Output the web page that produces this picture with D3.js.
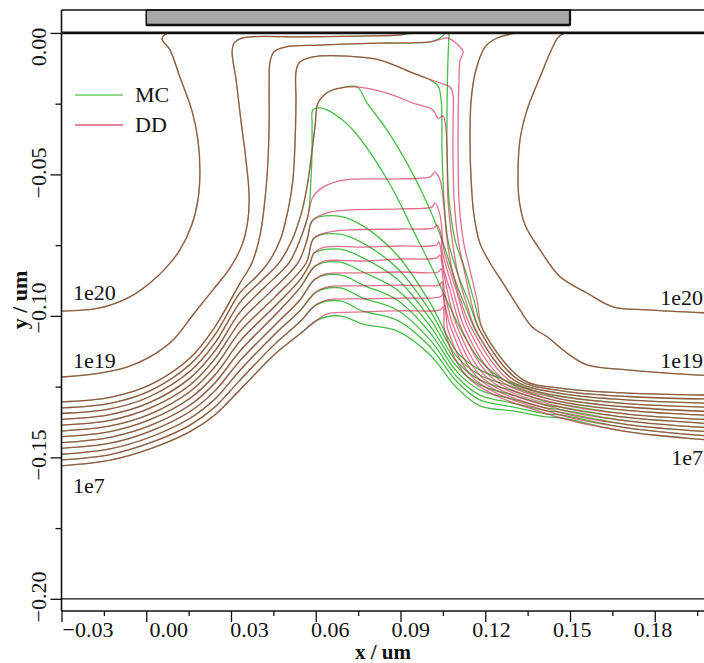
<!DOCTYPE html>
<html><head><meta charset="utf-8">
<script src="https://cdn.jsdelivr.net/npm/d3@7"></script>
<style>body{margin:0;background:#fff} svg{display:block} text{font-family:"Liberation Serif","Times New Roman",serif;fill:#111}</style>
</head><body><svg id="chart" width="704" height="663"></svg>
<script>
// ---------------- DATA (um) ----------------
const xMajorTicks = [-0.03,0,0.03,0.06,0.09,0.12,0.15,0.18];
const xMinorTicks = [-0.015,0.015,0.045,0.075,0.105,0.135,0.165,0.195];
const xTickLabels = ["\u22120.03","0.00","0.03","0.06","0.09","0.12","0.15","0.18"];
const yMajorTicks = [0,-0.05,-0.10,-0.15,-0.20];
const yMinorTicks = [-0.025,-0.075,-0.125,-0.175];
const yTickLabels = ["0.00","\u22120.05","\u22120.10","\u22120.15","\u22120.20"];
const gateX = [0, 0.15];
const gateY = [0.0028, 0.0081];
const seriesNames = ["MC","DD"];

// source-side 1e20 and drain-side 1e20 (shared MC/DD)
const src1e20 = [[-0.03,-0.0983],[-0.0164,-0.0972],[-0.0058,-0.0933],[0.0013,-0.0884],[0.0073,-0.0827],[0.0119,-0.0767],[0.0161,-0.0679],[0.0183,-0.0590],[0.0190,-0.0495],[0.0183,-0.0378],[0.0161,-0.0272],[0.0119,-0.0156],[0.0084,-0.0060],[0.0056,-0.0021],[0.0070,-0.0004],[0.0091,0]];
const drn1e20 = [[0.2,-0.0990],[0.1773,-0.0979],[0.1652,-0.0968],[0.1560,-0.0919],[0.1465,-0.0862],[0.1394,-0.0767],[0.1341,-0.0679],[0.1320,-0.0590],[0.1316,-0.0495],[0.1323,-0.0378],[0.1348,-0.0272],[0.1394,-0.0156],[0.1429,-0.0071],[0.1454,-0.0021],[0.1472,-0.0004],[0.1493,0]];
// 1e19
const dd1e19Src = [[-0.03,-0.1216],[-0.0164,-0.1202],[-0.0068,-0.1181],[0.0013,-0.1145],[0.0095,-0.1085],[0.0165,-0.0997],[0.0236,-0.0908],[0.0296,-0.0831],[0.0339,-0.0750],[0.0360,-0.0661],[0.0364,-0.0573],[0.0353,-0.0449],[0.0335,-0.0308],[0.0318,-0.0166],[0.0304,-0.0067],[0.0311,-0.0036],[0.0339,-0.0018],[0.0544,-0.0014],[0.0757,-0.0011],[0.0898,-0.0007],[0.0927,0]];
const mc1e19Src = [[-0.03,-0.1216],[-0.0164,-0.1202],[-0.0068,-0.1181],[0.0013,-0.1145],[0.0095,-0.1085],[0.0165,-0.0997],[0.0236,-0.0908],[0.0296,-0.0831],[0.0339,-0.0750],[0.0360,-0.0661],[0.0364,-0.0573],[0.0353,-0.0449],[0.0335,-0.0308],[0.0318,-0.0166],[0.0304,-0.0067],[0.0311,-0.0036],[0.0339,-0.0018],[0.0544,-0.0014],[0.0757,-0.0011],[0.0880,-0.0009],[0.0951,0]];
const drn1e19 = [[0.1312,0],[0.1242,-0.0018],[0.1199,-0.0050],[0.1167,-0.0131],[0.1150,-0.0237],[0.1146,-0.0378],[0.1150,-0.0520],[0.1160,-0.0644],[0.1181,-0.0743],[0.1217,-0.0813],[0.1263,-0.0884],[0.1323,-0.0979],[0.1366,-0.1039],[0.1419,-0.1074],[0.1489,-0.1131],[0.1560,-0.1173],[0.1702,-0.1191],[0.2,-0.1212]];

// levels 1e18 ... 1e7
const contourLevels = ["1e18","1e17","1e16","1e15","1e14","1e13","1e12","1e11","1e10","1e9","1e8","1e7"];
// source-side arcs (shared): x columns and y per level
const arcX = [-0.03,-0.0128,0.0013,0.0155,0.0243,0.0332];
const arcY = [
 [-0.1304,-0.1288,-0.1244,-0.1149,-0.1039,-0.0884],
 [-0.1325,-0.1309,-0.1265,-0.1172,-0.1067,-0.0918],
 [-0.1345,-0.1329,-0.1285,-0.1196,-0.1096,-0.0952],
 [-0.1366,-0.1349,-0.1306,-0.1220,-0.1124,-0.0987],
 [-0.1386,-0.1369,-0.1326,-0.1244,-0.1152,-0.1021],
 [-0.1407,-0.1389,-0.1347,-0.1267,-0.1180,-0.1055],
 [-0.1427,-0.1409,-0.1367,-0.1291,-0.1209,-0.1089],
 [-0.1448,-0.1429,-0.1388,-0.1315,-0.1237,-0.1124],
 [-0.1468,-0.1450,-0.1408,-0.1338,-0.1265,-0.1158],
 [-0.1489,-0.1470,-0.1429,-0.1362,-0.1294,-0.1192],
 [-0.1509,-0.1490,-0.1449,-0.1386,-0.1322,-0.1227],
 [-0.1530,-0.1510,-0.1470,-0.1409,-0.1350,-0.1261]
];
// drain-side tails (shared)
const tailX = [0.1465,0.1702,0.2];
const tailY = [
 [-0.1255,-0.1273,-0.1280],[-0.1264,-0.1285,-0.1294],[-0.1274,-0.1297,-0.1309],[-0.1284,-0.1310,-0.1323],
 [-0.1293,-0.1322,-0.1338],[-0.1303,-0.1334,-0.1352],[-0.1312,-0.1347,-0.1367],[-0.1322,-0.1359,-0.1381],
 [-0.1331,-0.1371,-0.1396],[-0.1341,-0.1384,-0.1410],[-0.1350,-0.1396,-0.1425],[-0.1360,-0.1409,-0.1439]
];
// channel parts, upper levels (1e18..1e15)
const dd1e18 = [[0.0374,-0.0813],[0.0403,-0.0714],[0.0420,-0.0590],[0.0431,-0.0449],[0.0435,-0.0308],[0.0435,-0.0184],[0.0438,-0.0103],[0.0452,-0.0067],[0.0491,-0.0050],[0.0615,-0.0043],[0.0828,-0.0036],[0.1005,-0.0032],[0.1068,-0.0018],[0.1104,-0.0043],[0.1122,-0.0067],[0.1111,-0.0096],[0.1107,-0.0166],[0.1104,-0.0308],[0.1104,-0.0449],[0.1107,-0.0590],[0.1122,-0.0732],[0.1146,-0.0838],[0.1171,-0.0944],[0.1192,-0.1050],[0.1334,-0.1226]];
const mc1e18Channel = [[0.0374,-0.0813],[0.0403,-0.0714],[0.0420,-0.0590],[0.0431,-0.0449],[0.0435,-0.0308],[0.0435,-0.0184],[0.0438,-0.0103],[0.0452,-0.0067],[0.0491,-0.0050],[0.0615,-0.0043],[0.0828,-0.0036],[0.1005,-0.0032],[0.1040,-0.0018],[0.1058,0]];
const mc1e18Drain = [[0.1072,0],[0.1068,-0.0096],[0.1065,-0.0237],[0.1065,-0.0414],[0.1072,-0.0590],[0.1093,-0.0732],[0.1129,-0.0838],[0.1160,-0.0944],[0.1192,-0.1050],[0.1334,-0.1226]];
const dd1e17 = [[0.0385,-0.0866],[0.0431,-0.0813],[0.0474,-0.0732],[0.0502,-0.0626],[0.0519,-0.0520],[0.0527,-0.0378],[0.0530,-0.0237],[0.0530,-0.0138],[0.0541,-0.0106],[0.0590,-0.0085],[0.0711,-0.0082],[0.0828,-0.0096],[0.0944,-0.0142],[0.1040,-0.0177],[0.1075,-0.0191],[0.1086,-0.0219],[0.1086,-0.0308],[0.1086,-0.0449],[0.1090,-0.0590],[0.1104,-0.0732],[0.1129,-0.0855],[0.1153,-0.0961],[0.1180,-0.1050],[0.1317,-0.1226]];
const mc1e17 = [[0.0385,-0.0866],[0.0431,-0.0813],[0.0474,-0.0732],[0.0502,-0.0626],[0.0519,-0.0520],[0.0527,-0.0378],[0.0530,-0.0237],[0.0530,-0.0138],[0.0541,-0.0106],[0.0590,-0.0085],[0.0711,-0.0082],[0.0828,-0.0096],[0.0944,-0.0142],[0.1005,-0.0166],[0.1033,-0.0188],[0.1044,-0.0237],[0.1047,-0.0414],[0.1054,-0.0590],[0.1068,-0.0732],[0.1104,-0.0855],[0.1146,-0.0961],[0.1180,-0.1050],[0.1317,-0.1226]];
const dd1e16 = [[0.0403,-0.0880],[0.0470,-0.0813],[0.0516,-0.0732],[0.0552,-0.0626],[0.0573,-0.0520],[0.0587,-0.0414],[0.0598,-0.0325],[0.0608,-0.0248],[0.0644,-0.0209],[0.0686,-0.0195],[0.0746,-0.0191],[0.0852,-0.0213],[0.0944,-0.0248],[0.1015,-0.0272],[0.1033,-0.0301],[0.1051,-0.0294],[0.1061,-0.0343],[0.1065,-0.0449],[0.1068,-0.0590],[0.1083,-0.0732],[0.1104,-0.0855],[0.1135,-0.0961],[0.1167,-0.1050],[0.1300,-0.1226]];
const mc1e16 = [[0.0403,-0.0880],[0.0470,-0.0813],[0.0516,-0.0732],[0.0552,-0.0626],[0.0573,-0.0520],[0.0587,-0.0414],[0.0598,-0.0325],[0.0608,-0.0248],[0.0644,-0.0209],[0.0686,-0.0195],[0.0746,-0.0191],[0.0782,-0.0248],[0.0852,-0.0343],[0.0923,-0.0460],[0.0994,-0.0601],[0.1051,-0.0743],[0.1093,-0.0873],[0.1135,-0.0979],[0.1174,-0.1067],[0.1300,-0.1226]];
const dd1e15 = [[0.0420,-0.0898],[0.0505,-0.0813],[0.0544,-0.0732],[0.0573,-0.0644],[0.0590,-0.0580],[0.0626,-0.0545],[0.0697,-0.0520],[0.0898,-0.0516],[0.1005,-0.0509],[0.1022,-0.0492],[0.1040,-0.0520],[0.1051,-0.0590],[0.1065,-0.0732],[0.1083,-0.0838],[0.1118,-0.0961],[0.1155,-0.1050],[0.1283,-0.1226]];
const mc1e15 = [[0.0420,-0.0898],[0.0505,-0.0813],[0.0544,-0.0732],[0.0573,-0.0644],[0.0583,-0.0520],[0.0587,-0.0414],[0.0587,-0.0325],[0.0590,-0.0272],[0.0615,-0.0265],[0.0640,-0.0272],[0.0686,-0.0301],[0.0732,-0.0343],[0.0803,-0.0438],[0.0874,-0.0555],[0.0944,-0.0696],[0.1015,-0.0838],[0.1068,-0.0954],[0.1118,-0.1057],[0.1181,-0.1156],[0.1260,-0.1223],[0.1359,-0.1262]];
// lower levels (1e14..1e7): shared rise to the bend
const riseLower = [
 [[0.0438,-0.0916],[0.0537,-0.0813],[0.0569,-0.0732],[0.0590,-0.0661]],
 [[0.0456,-0.0933],[0.0566,-0.0813],[0.0594,-0.0725]],
 [[0.0456,-0.0965],[0.0544,-0.0873],[0.0580,-0.0813],[0.0594,-0.0778]],
 [[0.0456,-0.0997],[0.0544,-0.0901],[0.0598,-0.0824]],
 [[0.0456,-0.1032],[0.0544,-0.0944],[0.0598,-0.0870]],
 [[0.0456,-0.1064],[0.0544,-0.0982],[0.0601,-0.0916]],
 [[0.0456,-0.1099],[0.0544,-0.1021],[0.0601,-0.0961]],
 [[0.0456,-0.1135],[0.0544,-0.1064],[0.0605,-0.1015]]
];
// DD steps across the channel and down the drain side
const ddStepLower = [
 [[0.0651,-0.0633],[0.0711,-0.0626],[0.0898,-0.0622],[0.1012,-0.0615],[0.1022,-0.0601],[0.1040,-0.0644],[0.1054,-0.0767],[0.1097,-0.0908],[0.1143,-0.1050],[0.1266,-0.1226]],
 [[0.0651,-0.0703],[0.0722,-0.0696],[0.0898,-0.0693],[0.1019,-0.0689],[0.1029,-0.0679],[0.1044,-0.0714],[0.1047,-0.0767],[0.1086,-0.0908],[0.1130,-0.1050],[0.1249,-0.1226]],
 [[0.0633,-0.0757],[0.0767,-0.0757],[0.0898,-0.0753],[0.1026,-0.0750],[0.1036,-0.0739],[0.1044,-0.0774],[0.1054,-0.0838],[0.1075,-0.0908],[0.1118,-0.1050],[0.1232,-0.1226]],
 [[0.0633,-0.0806],[0.0767,-0.0806],[0.0898,-0.0799],[0.1029,-0.0795],[0.1040,-0.0785],[0.1047,-0.0820],[0.1058,-0.0873],[0.1065,-0.0908],[0.1105,-0.1050],[0.1215,-0.1226]],
 [[0.0633,-0.0852],[0.0767,-0.0848],[0.0898,-0.0845],[0.1033,-0.0845],[0.1044,-0.0834],[0.1051,-0.0873],[0.1058,-0.0926],[0.1093,-0.1050],[0.1198,-0.1226]],
 [[0.0637,-0.0898],[0.0767,-0.0894],[0.0898,-0.0891],[0.1036,-0.0891],[0.1047,-0.0880],[0.1051,-0.0916],[0.1058,-0.0961],[0.1081,-0.1050],[0.1181,-0.1226]],
 [[0.0637,-0.0944],[0.0767,-0.0940],[0.0898,-0.0937],[0.1040,-0.0933],[0.1051,-0.0923],[0.1054,-0.0954],[0.1061,-0.0997],[0.1068,-0.1050],[0.1164,-0.1226]],
 [[0.0640,-0.0993],[0.0767,-0.0986],[0.0898,-0.0982],[0.1040,-0.0979],[0.1051,-0.0968],[0.1054,-0.0997],[0.1056,-0.1050],[0.1147,-0.1226]]
];
// MC fan: diagonal descent through the channel
const mcFanX = [0.0686,0.0767,0.0888,0.1005,0.1100,0.1181,0.1298,0.1419];
const mcFanY = [
 [-0.0648,-0.0682,-0.0785,-0.0954,-0.1128,-0.1191,-0.1237,-0.1280],
 [-0.0711,-0.0743,-0.0831,-0.0983,-0.1145,-0.1209,-0.1251,-0.1292],
 [-0.0764,-0.0795,-0.0870,-0.1011,-0.1163,-0.1226,-0.1265,-0.1304],
 [-0.0810,-0.0845,-0.0908,-0.1036,-0.1180,-0.1244,-0.1280,-0.1315],
 [-0.0855,-0.0891,-0.0944,-0.1060,-0.1198,-0.1262,-0.1294,-0.1326],
 [-0.0901,-0.0937,-0.0979,-0.1085,-0.1216,-0.1280,-0.1308,-0.1336],
 [-0.0947,-0.0983,-0.1015,-0.1110,-0.1233,-0.1297,-0.1322,-0.1347],
 [-0.1000,-0.1029,-0.1053,-0.1138,-0.1255,-0.1318,-0.1336,-0.1357]
];
// level labels (left ones start at x, right ones end at x)
const levelLabels = [
 {t:"1e20", x:-0.0259, y:-0.0944, a:"start"}, {t:"1e19", x:-0.0259, y:-0.1184, a:"start"}, {t:"1e7", x:-0.0259, y:-0.1626, a:"start"},
 {t:"1e20", x:0.1971, y:-0.0961, a:"end"}, {t:"1e19", x:0.1971, y:-0.1184, a:"end"}, {t:"1e7", x:0.1971, y:-0.1527, a:"end"}
];

// ---------------- DRAW ----------------
const W = 704, H = 663;
const MC_COLOR = "rgb(70,190,70)", DD_COLOR = "rgb(205,25,70)";
const x = d3.scaleLinear().domain([-0.03, 0.2]).range([61.5, 711.25]);
const y = d3.scaleLinear().domain([0.0081, -0.2043]).range([10, 611]);
const xLabelPos = d3.scaleLinear().domain([-0.03, 0.18]).range([88, 653]);
const yLabelPos = d3.scaleLinear().domain([0, -0.05, -0.10, -0.15, -0.20]).range([47, 173, 308, 455, 597]);

const svg = d3.select("#chart");
svg.append("rect").attr("width", W).attr("height", H).attr("fill", "#fff");
svg.append("defs").append("clipPath").attr("id", "plotClip").append("rect")
  .attr("x", x(-0.03)).attr("y", y(0.0081)).attr("width", x(0.2) - x(-0.03)).attr("height", y(-0.2043) - y(0.0081));

const zip = (xs, ys) => xs.map((v, i) => [v, ys[i]]);
const mcPaths = [src1e20, drn1e20, mc1e19Src, drn1e19];
const ddPaths = [src1e20, drn1e20, dd1e19Src, drn1e19];
const ddUpper = [dd1e18, dd1e17, dd1e16, dd1e15];
const mcUpper = [mc1e18Channel, mc1e17, mc1e16, mc1e15];
contourLevels.forEach((lvl, k) => {
  const arc = zip(arcX, arcY[k]);
  const tail = zip(tailX, tailY[k]);
  if (k < 4) {
    ddPaths.push(arc.concat(ddUpper[k], tail));
    if (k === 0) {
      mcPaths.push(arc.concat(mcUpper[0]));
      mcPaths.push(mc1e18Drain.concat(tail));
    } else {
      mcPaths.push(arc.concat(mcUpper[k], tail));
    }
  } else {
    const j = k - 4;
    ddPaths.push(arc.concat(riseLower[j], ddStepLower[j], tail));
    mcPaths.push(arc.concat(riseLower[j], zip(mcFanX, mcFanY[j]), tail));
  }
});

const line = d3.line().x(d => x(d[0])).y(d => y(d[1])).curve(d3.curveCatmullRom.alpha(0.5));
const plot = svg.append("g").attr("clip-path", "url(#plotClip)");
plot.append("g").selectAll("path").data(mcPaths).join("path")
  .attr("d", line).attr("fill", "none").attr("stroke", MC_COLOR).attr("stroke-width", 1.3);
plot.append("g").selectAll("path").data(ddPaths).join("path")
  .attr("d", line).attr("fill", "none").attr("stroke", DD_COLOR).attr("stroke-opacity", 0.62).attr("stroke-width", 1.3);

// gate
svg.append("rect").attr("x", x(gateX[0])).attr("y", y(gateY[1])).attr("width", x(gateX[1]) - x(gateX[0]))
  .attr("height", y(gateY[0]) - y(gateY[1])).attr("fill", "#a9a9a9").attr("stroke", "#111").attr("stroke-width", 1.5);
svg.append("line").attr("x1", x(gateX[0])).attr("x2", x(gateX[1])).attr("y1", y(gateY[0])).attr("y2", y(gateY[0]))
  .attr("stroke", "#111").attr("stroke-width", 2.5);
svg.append("line").attr("x1", x(gateX[1])).attr("x2", x(gateX[1])).attr("y1", y(gateY[1])).attr("y2", y(gateY[0]))
  .attr("stroke", "#111").attr("stroke-width", 2.2);

// frame
const frame = svg.append("g").attr("stroke", "#111").attr("fill", "none");
frame.append("line").attr("x1", x(-0.03)).attr("x2", W + 5).attr("y1", y(0.0081)).attr("y2", y(0.0081)).attr("stroke-width", 1.6);
frame.append("line").attr("x1", x(-0.03)).attr("x2", W + 5).attr("y1", y(-0.2043)).attr("y2", y(-0.2043)).attr("stroke-width", 1.6);
frame.append("line").attr("x1", x(-0.03)).attr("x2", x(-0.03)).attr("y1", y(0.0081)).attr("y2", y(-0.2043)).attr("stroke-width", 1.6);
frame.append("line").attr("x1", x(-0.03)).attr("x2", W + 5).attr("y1", y(-0.2)).attr("y2", y(-0.2)).attr("stroke-width", 1.4);
frame.append("line").attr("x1", x(-0.03)).attr("x2", W + 5).attr("y1", y(0)).attr("y2", y(0)).attr("stroke-width", 2.6);

// axes (ticks via d3 axes)
const xAxisMajor = svg.append("g").attr("transform", `translate(0,${y(-0.2043)})`)
  .call(d3.axisBottom(x).tickValues(xMajorTicks).tickSize(11).tickFormat(""));
const xAxisMinor = svg.append("g").attr("transform", `translate(0,${y(-0.2043)})`)
  .call(d3.axisBottom(x).tickValues(xMinorTicks).tickSize(5).tickFormat(""));
const yAxisMajor = svg.append("g").attr("transform", `translate(${x(-0.03)},0)`)
  .call(d3.axisLeft(y).tickValues(yMajorTicks).tickSize(11).tickFormat(""));
const yAxisMinor = svg.append("g").attr("transform", `translate(${x(-0.03)},0)`)
  .call(d3.axisLeft(y).tickValues(yMinorTicks).tickSize(6).tickFormat(""));
[xAxisMajor, xAxisMinor, yAxisMajor, yAxisMinor].forEach(g => {
  g.select(".domain").remove();
  g.selectAll(".tick line").attr("stroke", "#111").attr("stroke-width", 1.3);
});

// tick labels
svg.append("g").selectAll("text").data(xMajorTicks).join("text")
  .attr("x", d => xLabelPos(d)).attr("y", 637).attr("text-anchor", "middle")
  .attr("font-size", 22).text((d, i) => xTickLabels[i]);
svg.append("g").selectAll("text").data(yMajorTicks).join("text")
  .attr("transform", d => `translate(46,${yLabelPos(d)}) rotate(-90)`).attr("text-anchor", "middle")
  .attr("font-size", 22).text((d, i) => yTickLabels[i]);

// axis titles
svg.append("text").attr("x", 383).attr("y", 659).attr("text-anchor", "middle")
  .attr("font-size", 21).attr("font-weight", "bold").text("x / um");
svg.append("text").attr("transform", "translate(27,300) rotate(-90)").attr("text-anchor", "middle")
  .attr("font-size", 22).attr("font-weight", "bold").text("y / um");

// level labels
svg.append("g").selectAll("text").data(levelLabels).join("text")
  .attr("x", d => x(d.x)).attr("y", d => y(d.y)).attr("text-anchor", d => d.a).attr("font-size", 22).text(d => d.t);

// legend
const legend = svg.append("g");
seriesNames.forEach((s, i) => {
  const ly = 95 + i * 30;
  legend.append("line").attr("x1", 75).attr("x2", 123).attr("y1", ly).attr("y2", ly)
    .attr("stroke", i === 0 ? MC_COLOR : DD_COLOR).attr("stroke-opacity", i === 0 ? 0.8 : 0.7).attr("stroke-width", 1.3);
  legend.append("text").attr("x", 135).attr("y", ly + 7).attr("font-size", 22).text(s);
});
</script>
</body></html>
